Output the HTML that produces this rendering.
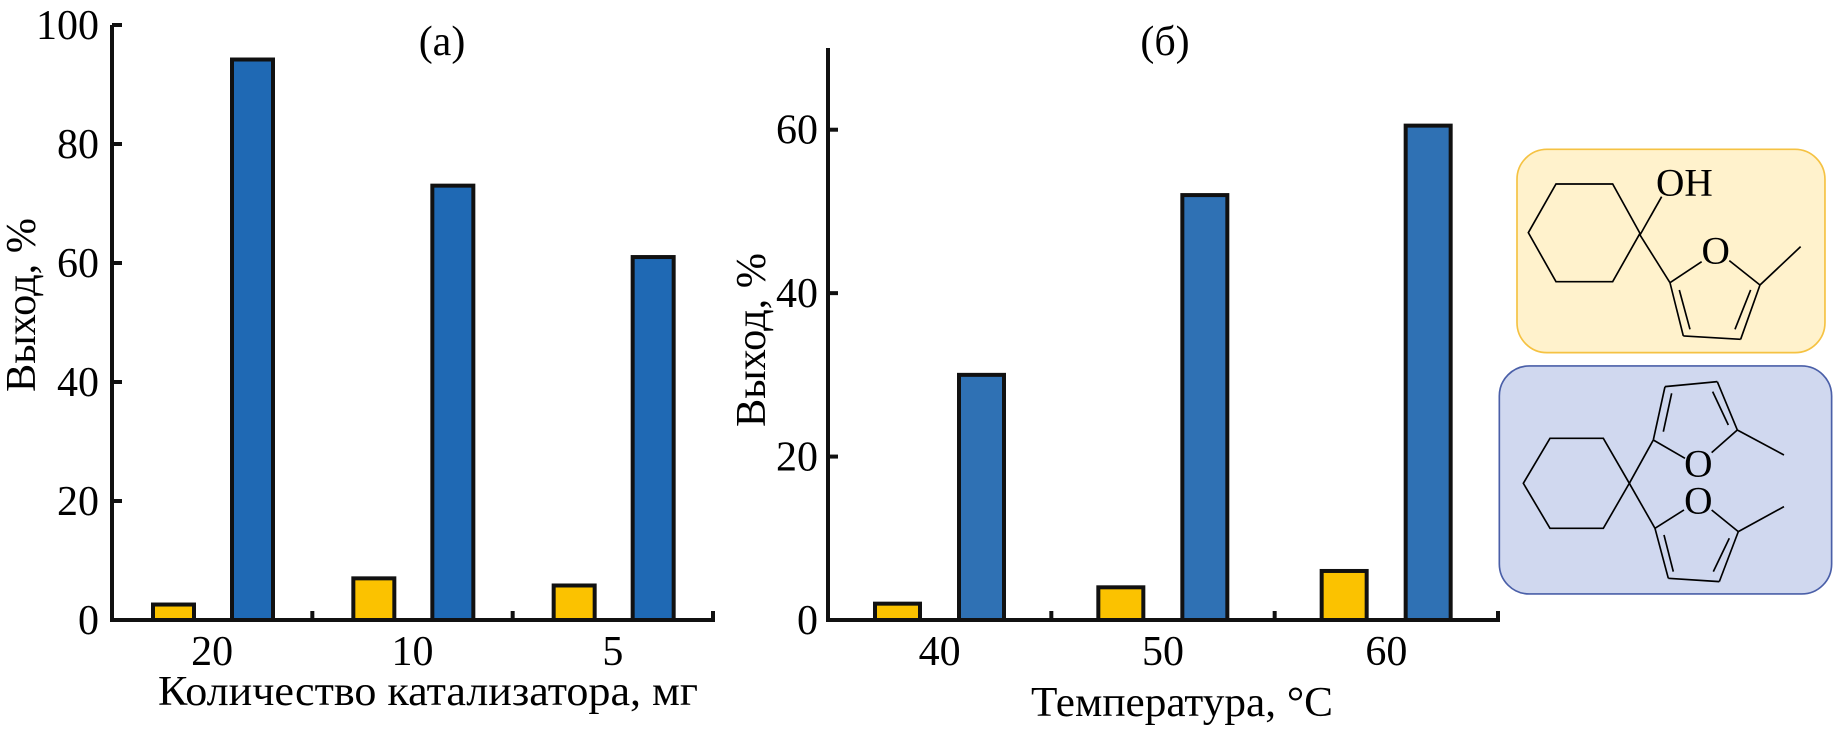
<!DOCTYPE html>
<html><head><meta charset="utf-8"><style>
html,body{margin:0;padding:0;background:#fff;}
svg{display:block;font-family:"Liberation Serif","DejaVu Serif",serif;}
svg text{font-family:"Liberation Serif","DejaVu Serif",serif;}
</style></head><body>
<svg id="fig" width="1833" height="730" viewBox="0 0 1833 730" xmlns="http://www.w3.org/2000/svg" font-family="Liberation Serif, DejaVu Serif, serif">
<g id="chartA"></g>
<g id="chartB"></g>
<g transform="translate(1480,130) scale(0.3333)">
  <rect x="111" y="58" width="924" height="610" rx="90" fill="#fff2cc" stroke="#f5c242" stroke-width="5"/>
  <g fill="none" stroke="#000" stroke-width="5">
    <polygon points="228,162 398,162 480,310 398,455 228,455 145,308"/>
    <line x1="480" y1="315" x2="545" y2="200"/>
    <line x1="480" y1="315" x2="570" y2="458"/>
    <line x1="570" y1="458" x2="665" y2="395"/>
    <line x1="748" y1="392" x2="840" y2="465"/>
    <line x1="840" y1="465" x2="782" y2="628"/>
    <line x1="782" y1="628" x2="610" y2="618"/>
    <line x1="610" y1="618" x2="570" y2="458"/>
    <line x1="598" y1="480" x2="630" y2="598"/>
    <line x1="765" y1="598" x2="812" y2="480"/>
    <line x1="840" y1="465" x2="962" y2="350"/>
  </g>
  <text x="528" y="196" font-size="118" font-family="Liberation Serif, serif">OH</text>
  <text x="707" y="400" font-size="118" text-anchor="middle" font-family="Liberation Serif, serif">O</text>
</g>
<g transform="translate(1480,130) scale(0.3333)">
  <rect x="58" y="708" width="997" height="684" rx="90" fill="#d0d8ef" stroke="#4a5fa8" stroke-width="5"/>
  <g fill="none" stroke="#000" stroke-width="5">
    <polygon points="210,925 370,925 448,1060 370,1195 210,1195 130,1060"/>
    <line x1="448" y1="1060" x2="520" y2="930"/>
    <line x1="520" y1="930" x2="555" y2="770"/>
    <line x1="555" y1="770" x2="712" y2="755"/>
    <line x1="712" y1="755" x2="772" y2="900"/>
    <line x1="520" y1="930" x2="615" y2="985"/>
    <line x1="695" y1="968" x2="772" y2="900"/>
    <line x1="550" y1="905" x2="575" y2="790"/>
    <line x1="698" y1="785" x2="745" y2="885"/>
    <line x1="772" y1="900" x2="912" y2="975"/>
    <line x1="448" y1="1060" x2="525" y2="1195"/>
    <line x1="525" y1="1195" x2="612" y2="1140"/>
    <line x1="695" y1="1140" x2="775" y2="1205"/>
    <line x1="775" y1="1205" x2="718" y2="1355"/>
    <line x1="718" y1="1355" x2="565" y2="1345"/>
    <line x1="565" y1="1345" x2="525" y2="1195"/>
    <line x1="552" y1="1215" x2="580" y2="1325"/>
    <line x1="700" y1="1325" x2="748" y2="1225"/>
    <line x1="775" y1="1205" x2="912" y2="1130"/>
  </g>
  <text x="655" y="1040" font-size="118" text-anchor="middle" font-family="Liberation Serif, serif">O</text>
  <text x="655" y="1150" font-size="118" text-anchor="middle" font-family="Liberation Serif, serif">O</text>
</g>
</svg>
<script>
const catsA = ["20", "10", "5"];
const orangeA = [2.6, 7, 5.8];
const blueA = [94.2, 73, 61];
const ticksA = [0, 20, 40, 60, 80, 100];
const catsB = ["40", "50", "60"];
const orangeB = [2, 4, 6];
const blueB = [30, 52, 60.5];
const ticksB = [0, 20, 40, 60];

const NS = "http://www.w3.org/2000/svg";
const FONT = "Liberation Serif, DejaVu Serif, serif";
function mk(parent, tag, attrs, text) {
  const e = document.createElementNS(NS, tag);
  for (const k in attrs) e.setAttribute(k, attrs[k]);
  if (tag === "text") e.setAttribute("font-family", FONT);
  if (text !== undefined) e.textContent = text;
  parent.appendChild(e);
  return e;
}

function drawChart(g, cfg) {
  const { x0, x1, y0, yTop, max, cats, orange, blue, ticks, oOff, bOff, bw, blueCol, xTitle, xTitleX, xTitleY, xTitleLen, title, titleX, yTitleX, yTitleY, tickLabelX } = cfg;
  const ys = v => y0 - (y0 - yTop) * v / max;
  const gw = (x1 - x0) / cats.length;
  const xs = i => x0 + gw * i;
  cats.forEach((c, i) => {
    const ro = mk(g, "rect", { x: xs(i) + oOff, y: ys(orange[i]), width: bw, height: y0 - ys(orange[i]), fill: "#fbc200", stroke: "#111", "stroke-width": 4 });
    
    
    const rb = mk(g, "rect", { x: xs(i) + bOff, y: ys(blue[i]), width: bw, height: y0 - ys(blue[i]), fill: blueCol, stroke: "#111", "stroke-width": 4 });
    
    
    const tl = mk(g, "text", { x: xs(i) + gw / 2, y: 665, "font-size": 42, "text-anchor": "middle" }, c);
    
    
    if (i > 0) {
      const tk = mk(g, "line", { x1: xs(i), x2: xs(i), y1: y0, y2: y0 - 9, stroke: "#111", "stroke-width": 4 });
      
      
    }
  });
  const ax = mk(g, "path", { d: `M${x0},${yTop} L${x0},${y0} L${x1},${y0} L${x1},${y0 - 9}`, fill: "none", stroke: "#111", "stroke-width": 4 });
  
  
  ticks.forEach(t => {
    const tk = mk(g, "line", { x1: x0, x2: x0 + 10, y1: ys(t), y2: ys(t), stroke: "#111", "stroke-width": 4 });
    
    
    const tl = mk(g, "text", { x: tickLabelX, y: ys(t) + 14, "font-size": 42, "text-anchor": "end" }, String(t));
    
    
  });
  const xt = mk(g, "text", { x: xTitleX, y: xTitleY, "font-size": 42, "text-anchor": "middle", textLength: xTitleLen, lengthAdjust: "spacingAndGlyphs" }, xTitle);
  
  
  const yt = mk(g, "text", { x: 0, y: 0, "font-size": 42, "text-anchor": "middle", transform: `translate(${yTitleX},${yTitleY}) rotate(-90)`, textLength: 174, lengthAdjust: "spacingAndGlyphs" }, "Выход, %");
  
  
  const tt = mk(g, "text", { x: titleX, y: 55, "font-size": 42, "text-anchor": "middle" }, title);
  
  
}

drawChart(document.getElementById("chartA"), {
  x0: 112, x1: 713, y0: 620, yTop: 25, max: 100, cats: catsA, orange: orangeA, blue: blueA, ticks: ticksA,
  oOff: 41, bOff: 120, bw: 41, blueCol: "#1f69b4", xTitle: "Количество катализатора, мг", xTitleX: 428, xTitleY: 705, xTitleLen: 540,
  title: "(a)", titleX: 442, yTitleX: 35, yTitleY: 305, tickLabelX: 99
});
drawChart(document.getElementById("chartB"), {
  x0: 828, x1: 1498, y0: 620, yTop: 48, max: 70, cats: catsB, orange: orangeB, blue: blueB, ticks: ticksB,
  oOff: 47, bOff: 131, bw: 45, blueCol: "#2f71b4", xTitle: "Температура, °C", xTitleX: 1182, xTitleY: 716, xTitleLen: 302,
  title: "(б)", titleX: 1165, yTitleX: 765, yTitleY: 340, tickLabelX: 818
});
</script>
</body></html>
